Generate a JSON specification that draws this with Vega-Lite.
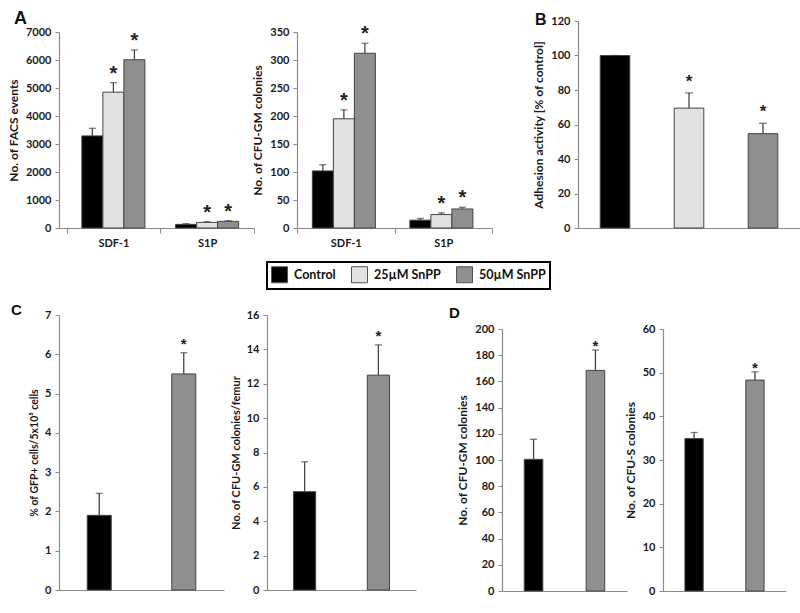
{
  "$schema": "https://vega.github.io/schema/vega-lite/v6.json",
  "padding": {"left": 7, "top": 10, "right": 5, "bottom": 5},
  "background": "white",
  "datasets": {
    "a1": [
      {"grp": "SDF-1", "cond": "Control", "v": 3290, "hi": 3560, "star": ""},
      {"grp": "SDF-1", "cond": "25µM SnPP", "v": 4850, "hi": 5190, "star": "*"},
      {"grp": "SDF-1", "cond": "50µM SnPP", "v": 6010, "hi": 6360, "star": "*"},
      {"grp": "S1P", "cond": "Control", "v": 130, "hi": 155, "star": ""},
      {"grp": "S1P", "cond": "25µM SnPP", "v": 200, "hi": 225, "star": "*"},
      {"grp": "S1P", "cond": "50µM SnPP", "v": 238, "hi": 262, "star": "*"}
    ],
    "a2": [
      {"grp": "SDF-1", "cond": "Control", "v": 102, "hi": 113, "star": ""},
      {"grp": "SDF-1", "cond": "25µM SnPP", "v": 195, "hi": 211, "star": "*"},
      {"grp": "SDF-1", "cond": "50µM SnPP", "v": 312, "hi": 330, "star": "*"},
      {"grp": "S1P", "cond": "Control", "v": 14, "hi": 17, "star": ""},
      {"grp": "S1P", "cond": "25µM SnPP", "v": 24, "hi": 27, "star": "*"},
      {"grp": "S1P", "cond": "50µM SnPP", "v": 34, "hi": 37, "star": "*"}
    ],
    "b": [
      {"cond": "Control", "v": 100, "hi": 100, "star": ""},
      {"cond": "25µM SnPP", "v": 69.5, "hi": 78.3, "star": "*"},
      {"cond": "50µM SnPP", "v": 54.7, "hi": 60.7, "star": "*"}
    ],
    "c1": [
      {"cond": "Control", "v": 1.9, "hi": 2.46, "star": ""},
      {"cond": "50µM SnPP", "v": 5.5, "hi": 6.04, "star": "*"}
    ],
    "c2": [
      {"cond": "Control", "v": 5.72, "hi": 7.46, "star": ""},
      {"cond": "50µM SnPP", "v": 12.5, "hi": 14.26, "star": "*"}
    ],
    "d1": [
      {"cond": "Control", "v": 100.5, "hi": 115.8, "star": ""},
      {"cond": "50µM SnPP", "v": 168.4, "hi": 183.9, "star": "*"}
    ],
    "d2": [
      {"cond": "Control", "v": 34.9, "hi": 36.3, "star": ""},
      {"cond": "50µM SnPP", "v": 48.3, "hi": 50.2, "star": "*"}
    ],
    "empty": []
  },
  "spacing": 55,
  "vconcat": [
    {
      "hconcat": [
        {
          "vconcat": [
            {"width": 1, "height": 1, "data": {"name": "empty"}, "mark": "point"},
            {
              "hconcat": [
                {
                  "width": 195, "height": 196,
                  "title": {"text": "A", "dx": -45, "offset": -2, "fontSize": 18},
                  "data": {"name": "a1"},
                  "encoding": {
                    "x": {"field": "grp", "type": "nominal", "sort": ["SDF-1", "S1P"], "scale": {"paddingInner": 0, "paddingOuter": 0.04, "align": 1}, "axis": {"title": null, "labelAngle": 0, "tickBand": "extent", "tickSize": 5, "labelPadding": 4}},
                    "xOffset": {"field": "cond", "type": "nominal", "sort": ["Control", "25µM SnPP", "50µM SnPP"], "scale": {"paddingInner": 0, "paddingOuter": 0.73}},
                    "y": {"field": "v", "type": "quantitative", "title": "No. of FACS events", "scale": {"domain": [0, 7000]}, "axis": {"values": [0, 1000, 2000, 3000, 4000, 5000, 6000, 7000]}}
                  },
                  "layer": [
                    {"mark": {"type": "bar", "stroke": "#444", "strokeWidth": 1}, "encoding": {"color": {"field": "cond", "type": "nominal", "title": null, "scale": {"domain": ["Control", "25µM SnPP", "50µM SnPP"], "range": ["#000000", "#e1e1e1", "#8f8f8f"]}}}},
                    {"mark": {"type": "rule", "color": "#444", "strokeWidth": 1.3}, "encoding": {"y2": {"field": "hi"}}},
                    {"mark": {"type": "tick", "color": "#444", "size": 7, "thickness": 1.3}, "encoding": {"y": {"field": "hi", "type": "quantitative", "title": "No. of FACS events", "scale": {"domain": [0, 7000]}, "axis": {"values": [0, 1000, 2000, 3000, 4000, 5000, 6000, 7000]}}}},
                    {"mark": {"type": "text", "fontSize": 20, "fontWeight": "bold", "dy": -9, "color": "#222", "font": "Liberation Sans"}, "encoding": {"y": {"field": "hi", "type": "quantitative", "title": "No. of FACS events", "scale": {"domain": [0, 7000]}, "axis": {"values": [0, 1000, 2000, 3000, 4000, 5000, 6000, 7000]}}, "text": {"field": "star"}}}
                  ]
                },
                {
                  "width": 195, "height": 196,
                  "data": {"name": "a2"},
                  "encoding": {
                    "x": {"field": "grp", "type": "nominal", "sort": ["SDF-1", "S1P"], "scale": {"paddingInner": 0, "paddingOuter": 0}, "axis": {"title": null, "labelAngle": 0, "tickBand": "extent", "tickSize": 5, "labelPadding": 4}},
                    "xOffset": {"field": "cond", "type": "nominal", "sort": ["Control", "25µM SnPP", "50µM SnPP"], "scale": {"paddingInner": 0, "paddingOuter": 0.75}},
                    "y": {"field": "v", "type": "quantitative", "title": "No. of CFU-GM colonies", "scale": {"domain": [0, 350]}, "axis": {"values": [0, 50, 100, 150, 200, 250, 300, 350]}}
                  },
                  "layer": [
                    {"mark": {"type": "bar", "stroke": "#444", "strokeWidth": 1}, "encoding": {"color": {"field": "cond", "type": "nominal", "title": null, "scale": {"domain": ["Control", "25µM SnPP", "50µM SnPP"], "range": ["#000000", "#e1e1e1", "#8f8f8f"]}}}},
                    {"mark": {"type": "rule", "color": "#444", "strokeWidth": 1.3}, "encoding": {"y2": {"field": "hi"}}},
                    {"mark": {"type": "tick", "color": "#444", "size": 7, "thickness": 1.3}, "encoding": {"y": {"field": "hi", "type": "quantitative", "title": "No. of CFU-GM colonies", "scale": {"domain": [0, 350]}, "axis": {"values": [0, 50, 100, 150, 200, 250, 300, 350]}}}},
                    {"mark": {"type": "text", "fontSize": 20, "fontWeight": "bold", "dy": -9, "color": "#222", "font": "Liberation Sans"}, "encoding": {"y": {"field": "hi", "type": "quantitative", "title": "No. of CFU-GM colonies", "scale": {"domain": [0, 350]}, "axis": {"values": [0, 50, 100, 150, 200, 250, 300, 350]}}, "text": {"field": "star"}}}
                  ]
                }
              ],
              "bounds": "flush",
              "spacing": 43
            }
          ],
          "bounds": "flush",
          "spacing": 10
        },
        {
          "width": 222, "height": 207,
          "title": {"text": "B", "dx": -43, "offset": -13, "fontSize": 16},
          "data": {"name": "b"},
          "encoding": {
            "x": {"field": "cond", "type": "nominal", "sort": ["Control", "25µM SnPP", "50µM SnPP"], "scale": {"paddingInner": 0.6, "paddingOuter": 0.3}, "axis": {"title": null, "labels": false, "ticks": false}},
            "y": {"field": "v", "type": "quantitative", "title": "Adhesion activity [% of control]", "scale": {"domain": [0, 120]}, "axis": {"values": [0, 20, 40, 60, 80, 100, 120]}}
          },
          "layer": [
            {"mark": {"type": "bar", "stroke": "#444", "strokeWidth": 1}, "encoding": {"color": {"field": "cond", "type": "nominal", "title": null, "scale": {"domain": ["Control", "25µM SnPP", "50µM SnPP"], "range": ["#000000", "#e1e1e1", "#8f8f8f"]}}}},
            {"mark": {"type": "rule", "color": "#444", "strokeWidth": 1.3}, "encoding": {"y2": {"field": "hi"}}},
            {"mark": {"type": "tick", "color": "#444", "size": 8, "thickness": 1.3}, "encoding": {"y": {"field": "hi", "type": "quantitative", "title": "Adhesion activity [% of control]", "scale": {"domain": [0, 120]}, "axis": {"values": [0, 20, 40, 60, 80, 100, 120]}}}},
            {"mark": {"type": "text", "fontSize": 17, "fontWeight": "bold", "dy": -11, "color": "#222", "font": "Liberation Sans"}, "encoding": {"y": {"field": "hi", "type": "quantitative", "title": "Adhesion activity [% of control]", "scale": {"domain": [0, 120]}, "axis": {"values": [0, 20, 40, 60, 80, 100, 120]}}, "text": {"field": "star"}}}
          ]
        }
      ],
      "spacing": 39
    },
    {
      "hconcat": [
        {
          "hconcat": [
            {
              "width": 165, "height": 275,
              "title": {"text": "C", "dx": -48, "offset": -9, "fontSize": 15},
              "data": {"name": "c1"},
              "encoding": {
                "x": {"field": "cond", "type": "nominal", "sort": ["Control", "25µM SnPP", "50µM SnPP"], "scale": {"paddingInner": 0.716, "paddingOuter": 0.334}, "axis": {"title": null, "labels": false, "ticks": false}},
                "y": {"field": "v", "type": "quantitative", "title": "% of GFP+ cells/5x10⁵ cells", "scale": {"domain": [0, 7]}, "axis": {"values": [0, 1, 2, 3, 4, 5, 6, 7], "titleFontSize": 10.5}}
              },
              "layer": [
                {"mark": {"type": "bar", "stroke": "#444", "strokeWidth": 1}, "encoding": {"color": {"field": "cond", "type": "nominal", "title": null, "scale": {"domain": ["Control", "25µM SnPP", "50µM SnPP"], "range": ["#000000", "#e1e1e1", "#8f8f8f"]}}}},
                {"mark": {"type": "rule", "color": "#444", "strokeWidth": 1.3}, "encoding": {"y2": {"field": "hi"}}},
                {"mark": {"type": "tick", "color": "#444", "size": 7, "thickness": 1.3}, "encoding": {"y": {"field": "hi", "type": "quantitative", "title": "% of GFP+ cells/5x10⁵ cells", "scale": {"domain": [0, 7]}, "axis": {"values": [0, 1, 2, 3, 4, 5, 6, 7], "titleFontSize": 10.5}}}},
                {"mark": {"type": "text", "fontSize": 15, "fontWeight": "bold", "dy": -9, "color": "#222", "font": "Liberation Sans"}, "encoding": {"y": {"field": "hi", "type": "quantitative", "title": "% of GFP+ cells/5x10⁵ cells", "scale": {"domain": [0, 7]}, "axis": {"values": [0, 1, 2, 3, 4, 5, 6, 7], "titleFontSize": 10.5}}, "text": {"field": "star"}}}
              ]
            },
            {
              "width": 149, "height": 275,
              "data": {"name": "c2"},
              "encoding": {
                "x": {"field": "cond", "type": "nominal", "sort": ["Control", "25µM SnPP", "50µM SnPP"], "scale": {"paddingInner": 0.7, "paddingOuter": 0.36}, "axis": {"title": null, "labels": false, "ticks": false}},
                "y": {"field": "v", "type": "quantitative", "title": "No. of CFU-GM colonies/femur", "scale": {"domain": [0, 16]}, "axis": {"values": [0, 2, 4, 6, 8, 10, 12, 14, 16], "titleFontSize": 11}}
              },
              "layer": [
                {"mark": {"type": "bar", "stroke": "#444", "strokeWidth": 1}, "encoding": {"color": {"field": "cond", "type": "nominal", "title": null, "scale": {"domain": ["Control", "25µM SnPP", "50µM SnPP"], "range": ["#000000", "#e1e1e1", "#8f8f8f"]}}}},
                {"mark": {"type": "rule", "color": "#444", "strokeWidth": 1.3}, "encoding": {"y2": {"field": "hi"}}},
                {"mark": {"type": "tick", "color": "#444", "size": 7, "thickness": 1.3}, "encoding": {"y": {"field": "hi", "type": "quantitative", "title": "No. of CFU-GM colonies/femur", "scale": {"domain": [0, 16]}, "axis": {"values": [0, 2, 4, 6, 8, 10, 12, 14, 16], "titleFontSize": 11}}}},
                {"mark": {"type": "text", "fontSize": 15, "fontWeight": "bold", "dy": -9, "color": "#222", "font": "Liberation Sans"}, "encoding": {"y": {"field": "hi", "type": "quantitative", "title": "No. of CFU-GM colonies/femur", "scale": {"domain": [0, 16]}, "axis": {"values": [0, 2, 4, 6, 8, 10, 12, 14, 16], "titleFontSize": 11}}, "text": {"field": "star"}}}
              ]
            }
          ],
          "bounds": "flush",
          "spacing": 43
        },
        {
          "vconcat": [
            {"width": 1, "height": 1, "data": {"name": "empty"}, "mark": "point"},
            {
              "hconcat": [
                {
                  "width": 125, "height": 262,
                  "title": {"text": "D", "dx": -53, "offset": 2, "fontSize": 15},
                  "data": {"name": "d1"},
                  "encoding": {
                    "x": {"field": "cond", "type": "nominal", "sort": ["Control", "25µM SnPP", "50µM SnPP"], "scale": {"paddingInner": 0.7, "paddingOuter": 0.36}, "axis": {"title": null, "labels": false, "ticks": false}},
                    "y": {"field": "v", "type": "quantitative", "title": "No. of CFU-GM colonies", "scale": {"domain": [0, 200]}, "axis": {"values": [0, 20, 40, 60, 80, 100, 120, 140, 160, 180, 200]}}
                  },
                  "layer": [
                    {"mark": {"type": "bar", "stroke": "#444", "strokeWidth": 1}, "encoding": {"color": {"field": "cond", "type": "nominal", "title": null, "scale": {"domain": ["Control", "25µM SnPP", "50µM SnPP"], "range": ["#000000", "#e1e1e1", "#8f8f8f"]}}}},
                    {"mark": {"type": "rule", "color": "#444", "strokeWidth": 1.3}, "encoding": {"y2": {"field": "hi"}}},
                    {"mark": {"type": "tick", "color": "#444", "size": 7, "thickness": 1.3}, "encoding": {"y": {"field": "hi", "type": "quantitative", "title": "No. of CFU-GM colonies", "scale": {"domain": [0, 200]}, "axis": {"values": [0, 20, 40, 60, 80, 100, 120, 140, 160, 180, 200]}}}},
                    {"mark": {"type": "text", "fontSize": 15, "fontWeight": "bold", "dy": -4, "color": "#222", "font": "Liberation Sans"}, "encoding": {"y": {"field": "hi", "type": "quantitative", "title": "No. of CFU-GM colonies", "scale": {"domain": [0, 200]}, "axis": {"values": [0, 20, 40, 60, 80, 100, 120, 140, 160, 180, 200]}}, "text": {"field": "star"}}}
                  ]
                },
                {
                  "width": 123, "height": 262,
                  "data": {"name": "d2"},
                  "encoding": {
                    "x": {"field": "cond", "type": "nominal", "sort": ["Control", "25µM SnPP", "50µM SnPP"], "scale": {"paddingInner": 0.7, "paddingOuter": 0.36}, "axis": {"title": null, "labels": false, "ticks": false}},
                    "y": {"field": "v", "type": "quantitative", "title": "No. of CFU-S colonies", "scale": {"domain": [0, 60]}, "axis": {"values": [0, 10, 20, 30, 40, 50, 60]}}
                  },
                  "layer": [
                    {"mark": {"type": "bar", "stroke": "#444", "strokeWidth": 1}, "encoding": {"color": {"field": "cond", "type": "nominal", "title": null, "scale": {"domain": ["Control", "25µM SnPP", "50µM SnPP"], "range": ["#000000", "#e1e1e1", "#8f8f8f"]}}}},
                    {"mark": {"type": "rule", "color": "#444", "strokeWidth": 1.3}, "encoding": {"y2": {"field": "hi"}}},
                    {"mark": {"type": "tick", "color": "#444", "size": 7, "thickness": 1.3}, "encoding": {"y": {"field": "hi", "type": "quantitative", "title": "No. of CFU-S colonies", "scale": {"domain": [0, 60]}, "axis": {"values": [0, 10, 20, 30, 40, 50, 60]}}}},
                    {"mark": {"type": "text", "fontSize": 15, "fontWeight": "bold", "dy": -4, "color": "#222", "font": "Liberation Sans"}, "encoding": {"y": {"field": "hi", "type": "quantitative", "title": "No. of CFU-S colonies", "scale": {"domain": [0, 60]}, "axis": {"values": [0, 10, 20, 30, 40, 50, 60]}}, "text": {"field": "star"}}}
                  ]
                }
              ],
              "bounds": "flush",
              "spacing": 36
            }
          ],
          "bounds": "flush",
          "spacing": 13
        }
      ],
      "spacing": 33
    }
  ],
  "config": {
    "view": {"stroke": null},
    "font": "Lato",
    "numberFormat": "d",
    "axis": {"grid": false, "domainColor": "#8a8a8a", "domainWidth": 1.2, "tickColor": "#8a8a8a", "tickSize": 4, "labelFont": "Lato", "labelFontWeight": "bold", "labelFontSize": 11, "labelColor": "#1a1a1a", "labelPadding": 4, "titleFont": "Lato", "titleFontWeight": "bold", "titleFontSize": 12, "titleColor": "#1a1a1a", "titlePadding": 5},
    "title": {"font": "Liberation Sans", "fontWeight": "bold", "color": "#111", "anchor": "start", "frame": "group"},
    "legend": {"orient": "none", "legendX": 208, "legendY": 241, "direction": "horizontal", "symbolType": "square", "symbolSize": 256, "symbolStrokeColor": "#555", "symbolStrokeWidth": 1, "labelFont": "Lato", "labelFontSize": 12.5, "labelFontWeight": "bold", "labelColor": "#111", "columnPadding": 13, "labelOffset": 6, "padding": 4, "strokeColor": "#000", "strokeWidth": 2}
  }
}
